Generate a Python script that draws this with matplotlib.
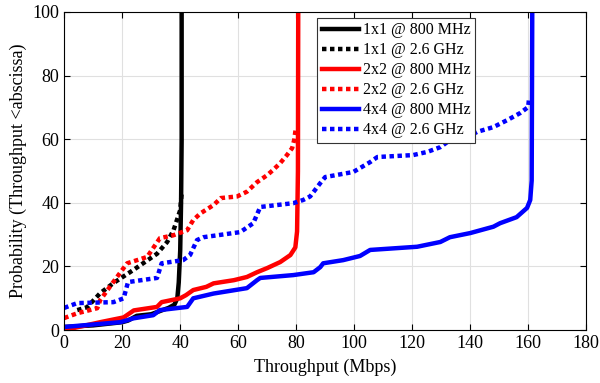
import matplotlib.pyplot as plt

# CDF curves (throughput in Mbps, probability in %)
x_1x1_800 = [0, 10, 20, 22, 25, 30, 33, 36, 38, 39, 39.5, 40, 40.3, 40.5, 40.5]
y_1x1_800 = [1, 1.5, 2.5, 3, 4.5, 5, 6, 7, 8, 10, 15, 25, 40, 60, 100]

x_1x1_26 = [4.5, 7.9, 12.4, 17, 24, 32, 35.5, 37.7, 40, 40.5]
y_1x1_26 = [6.3, 7.2, 11.6, 14.8, 19, 24, 27.7, 31.4, 37.7, 43]

x_2x2_800 = [0, 12.4, 20.5, 24, 32, 33.6, 40, 42, 44.5, 49, 51.5, 58.5, 63, 66.5,
             70, 74.5, 78, 79.7, 80.3, 80.6, 80.7]
y_2x2_800 = [0, 2.5, 4, 6.2, 7.3, 8.8, 10, 11, 12.6, 13.6, 14.7, 15.7, 16.7, 18.2,
             19.5, 21.4, 23.6, 26, 31, 50, 100]

x_2x2_26 = [0, 4.5, 11.4, 12.4, 17, 21.7, 28.6, 33, 37.6, 42.4, 44.5, 47, 51.5, 54,
            59.6, 63, 66.5, 70, 72, 74.5, 76.8, 78.6, 79.3, 79.8]
y_2x2_26 = [3.8, 5.3, 6.9, 9.4, 15.2, 21, 23, 28.9, 29.8, 31.4, 34.6, 36.7, 39.3, 41.5,
            42, 43.5, 46.5, 48.7, 50.3, 52.5, 55, 57.2, 59.7, 63]

x_4x4_800 = [0, 19.3, 21.7, 23.8, 30.7, 33, 42.4, 44.5, 51.5, 63, 66.5, 67.6, 79, 86,
             88.3, 89.3, 96.2, 102, 105.5, 121.7, 129.7, 133, 140, 148, 150.3, 156,
             159.6, 160.7, 161.2, 161.4]
y_4x4_800 = [1, 2.5, 3.1, 3.7, 4.7, 6.3, 7.3, 10, 11.5, 13.2, 15.7, 16.4, 17.3, 18.2,
             19.8, 21, 22, 23.3, 25.2, 26.2, 27.7, 29.2, 30.5, 32.5, 33.6, 35.5,
             38.4, 40.9, 47, 100]

x_4x4_26 = [0, 4.5, 17, 20.5, 22, 32, 33.6, 41, 43.4, 45.8, 48, 60.7, 65.2, 67.6, 79,
            82.4, 84.8, 88.3, 90, 99.7, 105.5, 108, 120.3, 125.2, 129.7, 133, 139,
            142.4, 148, 152.8, 157.2, 160, 160.3]
y_4x4_26 = [7, 8.5, 8.8, 10, 15.1, 16.4, 21, 22, 23.6, 28.3, 29.2, 30.8, 33.6, 38.7, 39.9,
            40.9, 42, 46.2, 48.1, 49.7, 52.8, 54.4, 55, 56, 57.5, 59.7, 60.7,
            62.3, 63.8, 66, 68.2, 70.1, 73]

x_ticks = [0, 20, 40, 60, 80, 100, 120, 140, 160, 180]
y_ticks = [0, 20, 40, 60, 80, 100]

plt.rcParams['font.family'] = 'Liberation Serif'

fig = plt.figure(figsize=(6, 3.83), dpi=100)
ax = fig.add_axes([0.107, 0.138, 0.870, 0.831])

lw = 3.2
dots = (0, (1, 0.8))
ax.plot(x_1x1_800, y_1x1_800, color='black', lw=lw, label='1x1 @ 800 MHz')
ax.plot(x_1x1_26, y_1x1_26, color='black', lw=lw, ls=dots, dash_capstyle='butt', label='1x1 @ 2.6 GHz')
ax.plot(x_2x2_800, y_2x2_800, color='red', lw=lw, label='2x2 @ 800 MHz')
ax.plot(x_2x2_26, y_2x2_26, color='red', lw=lw, ls=dots, dash_capstyle='butt', label='2x2 @ 2.6 GHz')
ax.plot(x_4x4_800, y_4x4_800, color='blue', lw=lw, label='4x4 @ 800 MHz')
ax.plot(x_4x4_26, y_4x4_26, color='blue', lw=lw, ls=dots, dash_capstyle='butt', label='4x4 @ 2.6 GHz')

ax.set_xlim(0, 180)
ax.set_ylim(0, 100)
ax.set_xticks(x_ticks)
ax.set_yticks(y_ticks)
ax.tick_params(direction='in', top=True, right=True, labelsize=13, length=4, width=0.8)
ax.grid(True, color='#e0e0e0', lw=0.8)
ax.set_axisbelow(True)
for s in ax.spines.values():
    s.set_linewidth(0.8)

ax.set_xlabel('Throughput (Mbps)', fontsize=13, labelpad=5)
ax.set_ylabel('Probability (Throughput <abscissa)', fontsize=13, labelpad=4)

leg = ax.legend(loc='upper left', bbox_to_anchor=(0.485, 0.982), fontsize=11.5,
                frameon=True, fancybox=False, edgecolor='#333333', framealpha=1,
                handlelength=2.3, handletextpad=0.25, borderpad=0.3, labelspacing=0.25,
                borderaxespad=0)
leg.get_frame().set_linewidth(0.8)

fig.savefig('out.png', dpi=100)
